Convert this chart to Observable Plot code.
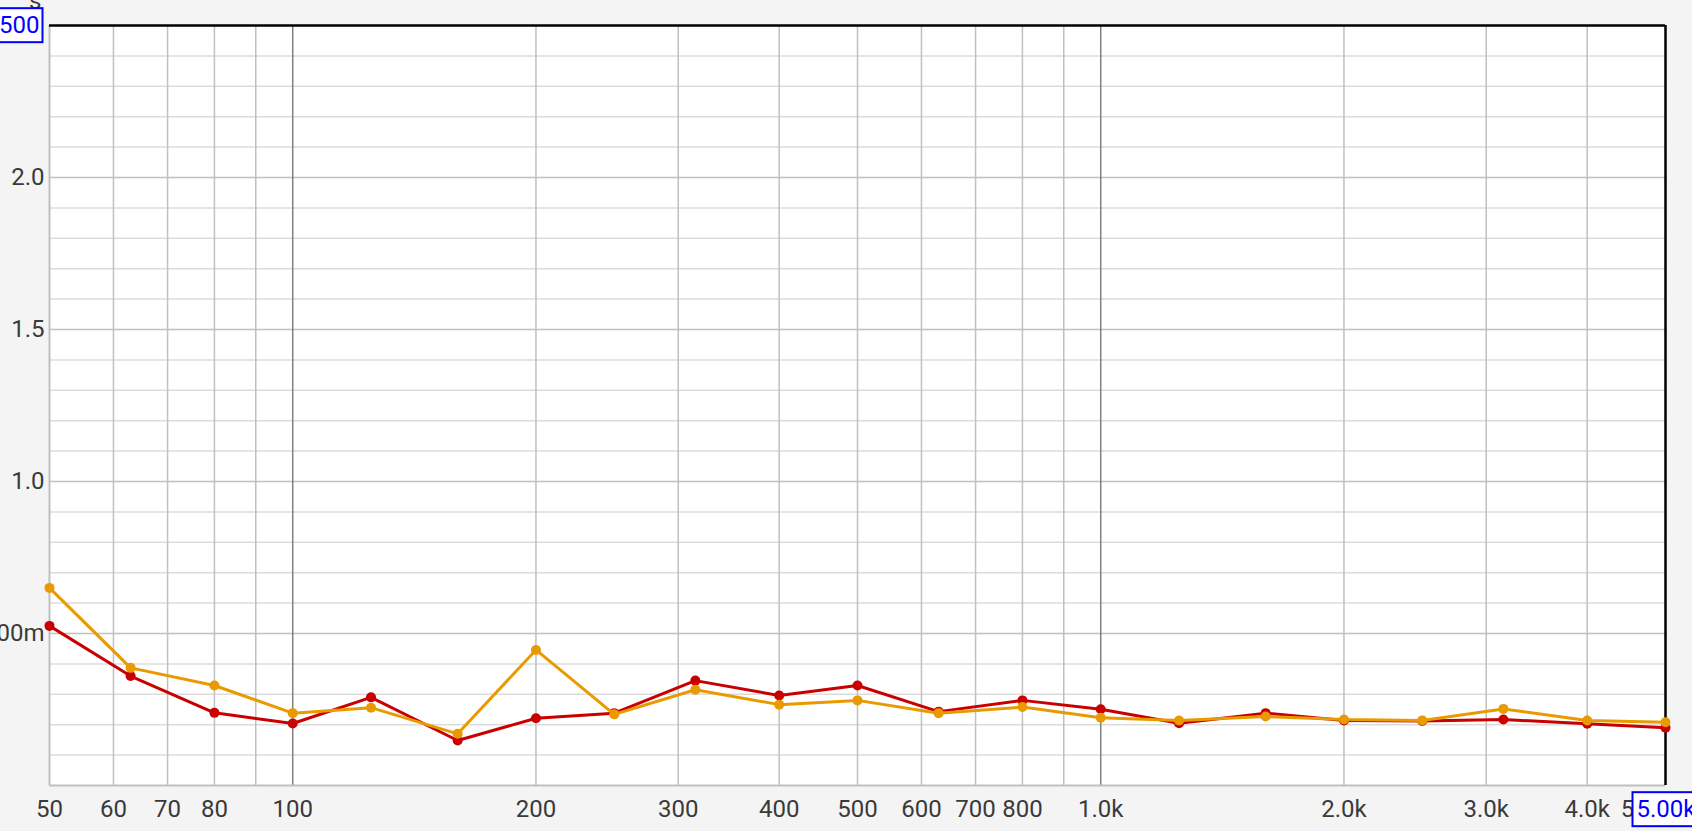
<!DOCTYPE html>
<html><head><meta charset="utf-8">
<script src="https://cdn.jsdelivr.net/npm/d3@7"></script>
<script src="https://cdn.jsdelivr.net/npm/@observablehq/plot@0.6"></script>
<style>
html,body{margin:0;padding:0;background:#f4f4f4;overflow:hidden}
svg{display:block}
</style></head>
<body><div id="chart"></div>
<script>
const freqs = [50,63,80,100,125,160,200,250,315,400,500,630,800,1000,1250,1600,2000,2500,3150,4000,5000];
const redValues = [0.525,0.360,0.239,0.204,0.290,0.148,0.221,0.238,0.345,0.296,0.329,0.243,0.280,0.251,0.205,0.238,0.214,0.212,0.217,0.203,0.190];
const orangeValues = [0.650,0.387,0.329,0.238,0.256,0.170,0.446,0.234,0.315,0.266,0.280,0.238,0.258,0.223,0.214,0.227,0.217,0.214,0.252,0.214,0.208];
const xTicks = [50,60,70,80,100,200,300,400,500,600,700,800,1000,2000,3000,4000];
const xTickLabels = ["50","60","70","80","100","200","300","400","500","600","700","800","1.0k","2.0k","3.0k","4.0k"];
const yTicks = [0.5,1.0,1.5,2.0];
const yTickLabels = ["500m","1.0","1.5","2.0"];
const xGridMinor = [60,70,80,90,200,300,400,500,600,700,800,900,2000,3000,4000];
const xGridMajor = [100,1000];
const yGridMinor = [0.1,0.2,0.3,0.4,0.6,0.7,0.8,0.9,1.1,1.2,1.3,1.4,1.6,1.7,1.8,1.9,2.1,2.2,2.3,2.4];
const yGridMajor = [0.5,1.0,1.5,2.0];
const yMax = 2.5, xMax = 5000, xMin = 50;
const yMaxLabel = "2.500", xMaxLabel = "5.00k", unitLabel = "s";

const red = freqs.map((f,i)=>({f, v:redValues[i]}));
const orange = freqs.map((f,i)=>({f, v:orangeValues[i]}));
const FONT = "Roboto, sans-serif";

const chart = Plot.plot({
  width: 1692, height: 831,
  marginLeft: 49, marginRight: 27, marginTop: 25, marginBottom: 46,
  style: {background: "#f4f4f4", fontFamily: FONT, fontSize: "24px", color: "#333"},
  x: {type: "log", domain: [xMin, xMax], axis: null},
  y: {domain: [0, yMax], axis: null},
  marks: [
    Plot.frame({fill: "white", stroke: "none"}),
    Plot.ruleY(yGridMinor, {stroke: "#dcdcdc", strokeWidth: 1.5}),
    Plot.ruleY(yGridMajor, {stroke: "#c0c0c0", strokeWidth: 1.5}),
    Plot.ruleX(xGridMinor, {stroke: "#c0c0c0", strokeWidth: 1.5}),
    Plot.ruleX(xGridMajor, {stroke: "#808080", strokeWidth: 1.5}),
    Plot.ruleX([xMin], {stroke: "#c0c0c0", strokeWidth: 2}),
    Plot.ruleY([0], {stroke: "#c0c0c0", strokeWidth: 2}),
    Plot.ruleY([yMax], {stroke: "black", strokeWidth: 2.5}),
    Plot.ruleX([xMax], {stroke: "black", strokeWidth: 2.5}),
    Plot.line(red, {x: "f", y: "v", stroke: "#c80000", strokeWidth: 3}),
    Plot.dot(red, {x: "f", y: "v", fill: "#c80000", r: 5}),
    Plot.line(orange, {x: "f", y: "v", stroke: "#e99a00", strokeWidth: 3}),
    Plot.dot(orange, {x: "f", y: "v", fill: "#e99a00", r: 5}),
    Plot.text(xTicks, {x: d=>d, y: 0, text: (d,i)=>xTickLabels[i], dy: 24, fill: "#3a3a3a"}),
    Plot.text(["5"], {x: xMax, y: 0, text: d=>d, dy: 24, dx: -38, fill: "#3a3a3a"}),
    Plot.text(yTicks, {x: xMin, y: d=>d, text: (d,i)=>yTickLabels[i], dx: -5, textAnchor: "end", fill: "#3a3a3a"}),
    Plot.text([unitLabel], {x: xMin, y: yMax, text: d=>d, dx: -8, dy: -24, textAnchor: "end", fill: "#3a3a3a"}),
    Plot.text([yMaxLabel], {x: xMin, y: yMax, text: d=>d, dx: -10, textAnchor: "end", fill: "#0000ff", className: "boxed"}),
    Plot.text([xMaxLabel], {x: xMax, y: 0, text: d=>d, dx: -29, dy: 24, textAnchor: "start", fill: "#0000ff", className: "boxed"})
  ]
});
document.getElementById("chart").appendChild(chart);
d3.select(chart).selectAll("g.boxed text").each(function(){
  const b = this.getBBox();
  const t = this.getAttribute("transform");
  const r = d3.select(this.parentNode).insert("rect", () => this)
    .attr("x", b.x - 4).attr("y", b.y - 3).attr("width", b.width + 7).attr("height", b.height + 6)
    .attr("fill", "white").attr("stroke", "#0000ff").attr("stroke-width", 2);
  if (t) r.attr("transform", t);
});
</script></body></html>
